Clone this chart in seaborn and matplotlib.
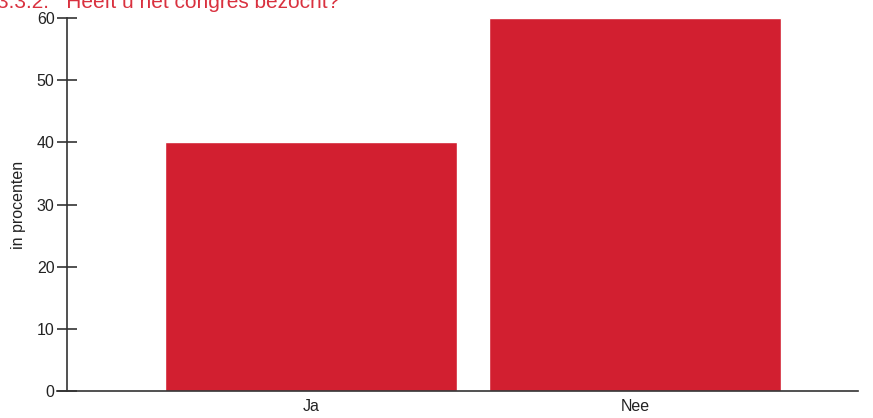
import matplotlib
matplotlib.use("Agg")
import matplotlib.pyplot as plt
import seaborn as sns
import pandas as pd

categories = ["Ja", "Nee"]
values = [40, 60]
yticks = [0, 10, 20, 30, 40, 50, 60]
title = "3.3.2.   Heeft u het congres bezocht?"
ylabel = "in procenten"

sns.set_theme(style="white")
plt.rcParams['font.family'] = ['Liberation Sans', 'DejaVu Sans']

df = pd.DataFrame({"cat": categories, "val": values})

fig = plt.figure(figsize=(8.73, 4.18), dpi=100)
ax = fig.add_axes([67/873, 1 - 391/418, (858-67)/873, (391-18)/418])
sns.barplot(data=df, x="cat", y="val", color="#D21F30", saturation=1, width=0.9, ax=ax)
ax.set_xlim(-0.753, 1.688)
ax.set_ylim(0, 60)
ax.set_yticks(yticks)
ax.set_yticklabels([str(t) for t in yticks], fontsize=11.5, color="#222222")
ax.set_xticks(range(len(categories)))
ax.set_xticklabels(categories, fontsize=11.5, color="#222222")
ax.set_xlabel("")
ax.set_ylabel(ylabel, fontsize=11.5, color="#222222", labelpad=8)
for s in ["top", "right"]:
    ax.spines[s].set_visible(False)
for s in ["left", "bottom"]:
    ax.spines[s].set_color("#333333")
    ax.spines[s].set_linewidth(1.2)
ax.tick_params(axis="y", direction="inout", length=14, width=1.2, color="#333333", pad=2, left=True)
ax.tick_params(axis="x", length=0, pad=6)
ax.spines["bottom"].set_bounds(-0.783, 1.688)
ax.spines["bottom"].set_clip_on(False)
ax.grid(False)

fig.text(-3/873, 1 - 8/418, title, fontsize=15, color="#D9313F", ha="left", va="baseline")
fig.savefig("out.png", dpi=100)
